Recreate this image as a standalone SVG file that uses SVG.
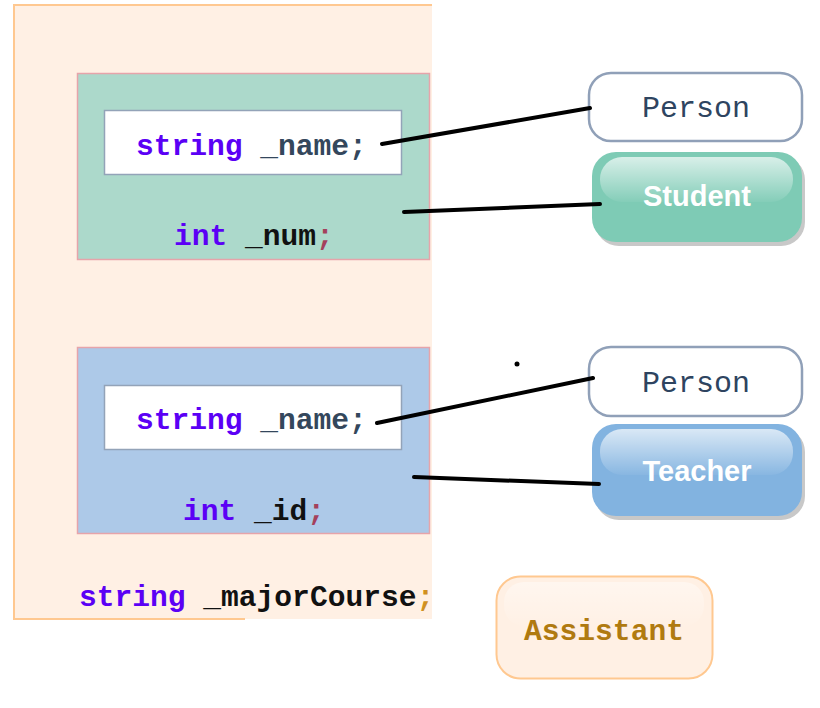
<svg xmlns="http://www.w3.org/2000/svg" width="820" height="708" viewBox="0 0 820 708">
<defs>
<style>
.code{font-family:"Liberation Mono","DejaVu Sans Mono",monospace;font-size:29.6px;font-weight:bold;}
.kw{fill:#5b00f5;}
.nm{fill:#34475c;}
.blk{fill:#111;}
.semi{fill:#a4405c;}
.wbox{fill:#fff;stroke:#93a3b8;stroke-width:1.5;}
.person{fill:#fff;stroke:#90a0b8;stroke-width:2.5;}
.ptxt{font-family:"Liberation Mono",monospace;font-size:30px;fill:#2e4460;text-anchor:middle;}
.btxt{font-family:"Liberation Sans",Arial,sans-serif;font-size:29px;font-weight:bold;fill:#fff;text-anchor:middle;}
.conn{stroke:#000;stroke-width:4;stroke-linecap:round;fill:none;}
</style>
<linearGradient id="gloss" x1="0" y1="0" x2="0" y2="1">
<stop offset="0" stop-color="#fff" stop-opacity="0.7"/>
<stop offset="1" stop-color="#fff" stop-opacity="0.05"/>
</linearGradient>
</defs>
<g id="outer">
<rect x="0" y="0" width="820" height="708" fill="#fff"/>
<rect x="14" y="5" width="418" height="614" fill="#fff0e4"/>
<path d="M432 5 H14 V619 H245" fill="none" stroke="#ffc890" stroke-width="2"/>
<text class="code" x="79" y="606"><tspan class="kw">string</tspan><tspan class="blk"> _majorCourse</tspan><tspan fill="#d09020">;</tspan></text>
</g>
<g id="student-block">
<rect x="77.5" y="73.5" width="352" height="186" fill="#acd9cb" stroke="#e6a4aa" stroke-width="1.5"/>
<rect x="104.5" y="110.5" width="297" height="64" class="wbox"/>
<text class="code" x="136" y="155"><tspan class="kw">string</tspan><tspan class="nm"> _name;</tspan></text>
<text class="code" x="174" y="245"><tspan class="kw">int</tspan><tspan class="blk"> _num</tspan><tspan class="semi">;</tspan></text>
</g>
<g id="teacher-block">
<rect x="77.5" y="347.5" width="352" height="186" fill="#adc9e8" stroke="#e6a4aa" stroke-width="1.5"/>
<rect x="104.5" y="385.5" width="297" height="64" class="wbox"/>
<text class="code" x="136" y="429"><tspan class="kw">string</tspan><tspan class="nm"> _name;</tspan></text>
<text class="code" x="183" y="520"><tspan class="kw">int</tspan><tspan class="blk"> _id</tspan><tspan class="semi">;</tspan></text>
</g>
<g id="person1">
<rect x="589" y="73" width="213" height="68" rx="22" class="person"/>
<text class="ptxt" x="696" y="117">Person</text>
</g>
<g id="student">
<rect x="595" y="156" width="210" height="90" rx="24" fill="#c8c8c8"/>
<rect x="592" y="152" width="210" height="90" rx="24" fill="#7ecbb5"/>
<rect x="600" y="157" width="193" height="45" rx="22" fill="url(#gloss)"/>
<text class="btxt" x="697" y="206">Student</text>
</g>
<g id="person2">
<rect x="589" y="347" width="213" height="69" rx="22" class="person"/>
<text class="ptxt" x="696" y="392">Person</text>
</g>
<g id="teacher">
<rect x="595" y="428" width="210" height="92" rx="24" fill="#c8c8c8"/>
<rect x="592" y="424" width="210" height="92" rx="24" fill="#82b3e0"/>
<rect x="600" y="429" width="193" height="46" rx="22" fill="url(#gloss)"/>
<text class="btxt" x="697" y="481">Teacher</text>
</g>
<g id="assistant">
<rect x="496.5" y="576.5" width="216" height="102" rx="24" fill="#fff0e4" stroke="#ffc890" stroke-width="2"/>
<rect x="504" y="582" width="200" height="44" rx="20" fill="url(#gloss)" opacity="0.6"/>
<text x="604" y="640" font-family="Liberation Mono,monospace" font-size="29.6" font-weight="bold" fill="#b07a10" text-anchor="middle">Assistant</text>
</g>
<g id="connectors">
<line class="conn" x1="382" y1="144" x2="590" y2="108"/>
<line class="conn" x1="404" y1="212" x2="600" y2="204"/>
<line class="conn" x1="377" y1="423" x2="593" y2="378"/>
<line class="conn" x1="414" y1="477" x2="599" y2="484"/>
<circle cx="517" cy="364" r="2.5" fill="#000"/>
</g>
</svg>
